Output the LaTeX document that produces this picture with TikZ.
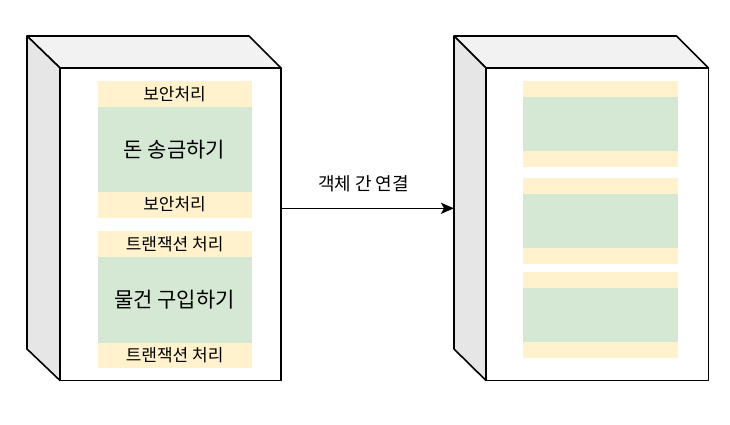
\documentclass[tikz,border=0pt]{standalone}
\usepackage{fontspec}
\setmainfont{Noto Sans CJK KR}
\usetikzlibrary{arrows.meta}

\begin{document}
\begin{tikzpicture}[x=1pt,y=1pt]
\definecolor{fillColor}{RGB}{255,255,255}
\path[use as bounding box,fill=fillColor] (0,0) rectangle (730,424);
\begin{scope}
\definecolor{drawColor}{RGB}{0,0,0}
\definecolor{topColor}{RGB}{242,242,242}
\definecolor{sideColor}{RGB}{230,230,230}
\definecolor{frontColor}{RGB}{255,255,255}

% left cube
\path[draw=drawColor,fill=topColor,line width= 1.6pt,line join=round] ( 27.00,388.00) -- (249.00,388.00) -- (281.00,356.00) -- ( 60.00,356.00) -- cycle;

\path[draw=drawColor,fill=sideColor,line width= 1.6pt,line join=round] ( 27.00,388.00) -- ( 60.00,356.00) -- ( 60.00, 43.50) -- ( 27.00, 75.00) -- cycle;

\path[draw=drawColor,fill=frontColor,line width= 1.6pt,line join=round] ( 60.00, 43.50) rectangle (281.00,356.00);

% right cube
\path[draw=drawColor,fill=topColor,line width= 1.6pt,line join=round] (454.00,388.00) -- (676.50,388.00) -- (708.50,356.00) -- (486.00,356.00) -- cycle;

\path[draw=drawColor,fill=sideColor,line width= 1.6pt,line join=round] (454.00,388.00) -- (486.00,356.00) -- (486.00, 43.50) -- (454.00, 75.00) -- cycle;

\path[draw=drawColor,fill=frontColor,line width= 1.6pt,line join=round] (486.00, 43.50) rectangle (708.50,356.00);
\end{scope}
\begin{scope}
\definecolor{drawColor}{RGB}{0,0,0}
\definecolor{wrapColor}{RGB}{255,242,204}
\definecolor{coreColor}{RGB}{213,232,212}

% left cube contents
\path[fill=wrapColor] ( 97.50,317.00) rectangle (251.70,343.00);

\path[fill=coreColor] ( 97.50,232.50) rectangle (251.70,317.00);

\path[fill=wrapColor] ( 97.50,206.50) rectangle (251.70,232.50);

\path[fill=wrapColor] ( 97.50,167.50) rectangle (251.70,193.00);

\path[fill=coreColor] ( 97.50, 81.50) rectangle (251.70,167.50);

\path[fill=wrapColor] ( 97.50, 56.50) rectangle (251.70, 81.50);

\node[text=drawColor,inner sep=0pt, outer sep=0pt, font=\fontsize{17}{20}\selectfont] (secTop) at (174.60,330.00) {보안처리};

\node[text=drawColor,inner sep=0pt, outer sep=0pt, font=\fontsize{21}{24}\selectfont] (sendMoney) at (174.60,274.75) {돈 송금하기};

\node[text=drawColor,inner sep=0pt, outer sep=0pt, font=\fontsize{17}{20}\selectfont] (secBot) at (174.60,219.50) {보안처리};

\node[text=drawColor,inner sep=0pt, outer sep=0pt, font=\fontsize{17}{20}\selectfont] (txTop) at (174.60,180.25) {트랜잭션 처리};

\node[text=drawColor,inner sep=0pt, outer sep=0pt, font=\fontsize{21}{24}\selectfont] (buyGoods) at (174.60,124.50) {물건 구입하기};

\node[text=drawColor,inner sep=0pt, outer sep=0pt, font=\fontsize{17}{20}\selectfont] (txBot) at (174.60, 69.00) {트랜잭션 처리};

% right cube contents
\path[fill=wrapColor] (523.00,327.30) rectangle (677.70,343.00);

\path[fill=coreColor] (523.00,273.00) rectangle (677.70,327.30);

\path[fill=wrapColor] (523.00,257.30) rectangle (677.70,273.00);

\path[fill=wrapColor] (523.00,229.70) rectangle (677.70,245.70);

\path[fill=coreColor] (523.00,176.00) rectangle (677.70,229.70);

\path[fill=wrapColor] (523.00,160.00) rectangle (677.70,176.00);

\path[fill=wrapColor] (523.00,135.70) rectangle (677.70,152.00);

\path[fill=coreColor] (523.00, 82.00) rectangle (677.70,135.70);

\path[fill=wrapColor] (523.00, 66.00) rectangle (677.70, 82.00);
\end{scope}
\begin{scope}
\definecolor{drawColor}{RGB}{0,0,0}

\coordinate (objA) at (281.00,215.70);

\coordinate (objB) at (454.00,215.70);

\path[draw=drawColor,line width= 1.5pt,-{Stealth[length=13pt,width=11pt,inset=3pt]}] (objA) -- (objB);

\node[text=drawColor,inner sep=0pt, outer sep=0pt, font=\fontsize{18}{21}\selectfont] (linkLabel) at (363.50,240.00) {객체 간 연결};
\end{scope}
\end{tikzpicture}
\end{document}
